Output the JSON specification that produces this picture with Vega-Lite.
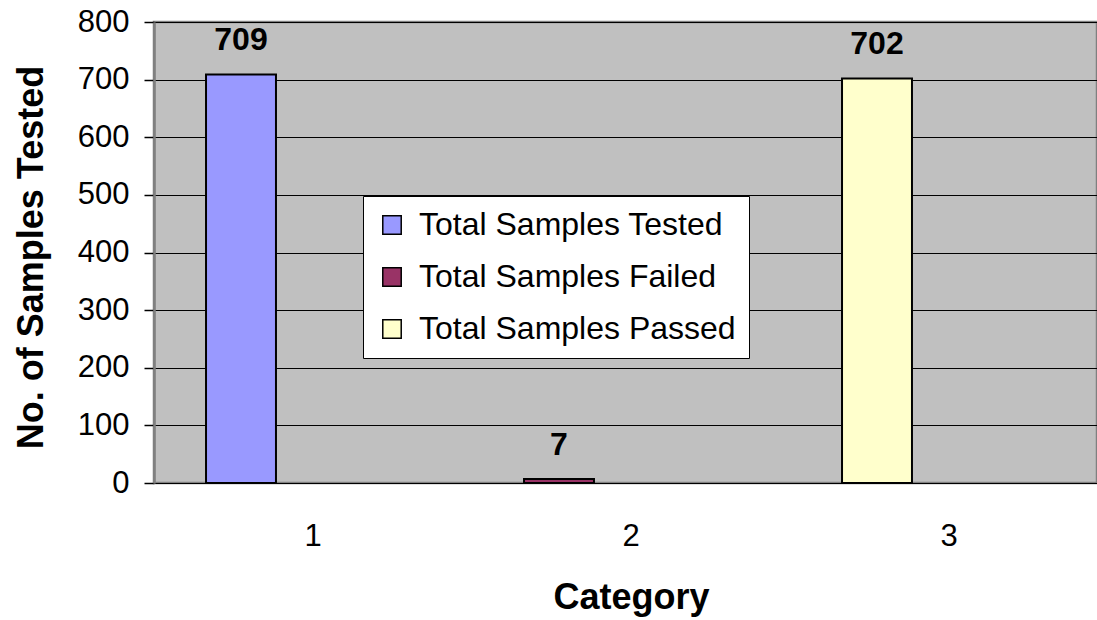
{
  "$schema": "https://vega.github.io/schema/vega-lite/v6.json",
  "width": 943,
  "height": 461,
  "autosize": {"type": "none"},
  "padding": {"left": 154, "top": 22, "right": 0, "bottom": 137},
  "background": "white",
  "config": {
    "font": "Liberation Sans",
    "view": {"fill": "#C0C0C0", "stroke": "#808080", "strokeWidth": 2.5}
  },
  "data": {
    "values": [
      {"category": "1", "series": "Total Samples Tested", "value": 709},
      {"category": "2", "series": "Total Samples Failed", "value": 7},
      {"category": "3", "series": "Total Samples Passed", "value": 702}
    ]
  },
  "encoding": {
    "x": {
      "field": "category",
      "type": "ordinal",
      "scale": {"range": [0, 954], "paddingInner": 0, "paddingOuter": 0},
      "axis": {
        "title": "Category",
        "labelAngle": 0,
        "labelFontSize": 31,
        "labelColor": "black",
        "labelPadding": 38,
        "ticks": false,
        "domain": false,
        "titleFontSize": 36,
        "titleFontWeight": "bold",
        "titleColor": "black",
        "titlePadding": 29
      }
    },
    "y": {
      "field": "value",
      "type": "quantitative",
      "scale": {"domain": [0, 800], "nice": false},
      "axis": {
        "title": "No. of Samples Tested",
        "values": [0, 100, 200, 300, 400, 500, 600, 700, 800],
        "labelFontSize": 31,
        "labelColor": "black",
        "labelPadding": 15,
        "tickSize": 10,
        "tickColor": "black",
        "tickWidth": 1.5,
        "domainColor": "#808080",
        "domainWidth": 2.5,
        "grid": true,
        "gridColor": "black",
        "gridWidth": 1.2,
        "titleFontSize": 36,
        "titleFontWeight": "bold",
        "titleColor": "black",
        "titleAngle": -90,
        "titleAlign": "center",
        "titleBaseline": "middle",
        "titleX": -123,
        "titleY": 235
      }
    }
  },
  "layer": [
    {
      "mark": {
        "type": "bar",
        "width": {"band": 0.22},
        "xOffset": -72,
        "stroke": "black",
        "strokeWidth": 2
      },
      "encoding": {
        "color": {
          "field": "series",
          "type": "nominal",
          "scale": {
            "domain": ["Total Samples Tested", "Total Samples Failed", "Total Samples Passed"],
            "range": ["#9999FF", "#993366", "#FFFFCC"]
          },
          "legend": {
            "title": null,
            "orient": "none",
            "legendX": 209,
            "legendY": 174,
            "direction": "vertical",
            "fillColor": "white",
            "strokeColor": "black",
            "padding": 13,
            "symbolType": "square",
            "symbolSize": 340,
            "symbolStrokeColor": "black",
            "symbolStrokeWidth": 1.5,
            "symbolOpacity": 1,
            "labelFontSize": 32,
            "labelColor": "black",
            "labelOffset": 11,
            "labelLimit": 500,
            "rowPadding": 20
          }
        }
      }
    },
    {
      "mark": {
        "type": "text",
        "dx": -72,
        "dy": -24,
        "baseline": "alphabetic",
        "align": "center",
        "fontSize": 32,
        "fontWeight": "bold",
        "color": "black"
      },
      "encoding": {
        "text": {"field": "value", "type": "quantitative"}
      }
    }
  ]
}
